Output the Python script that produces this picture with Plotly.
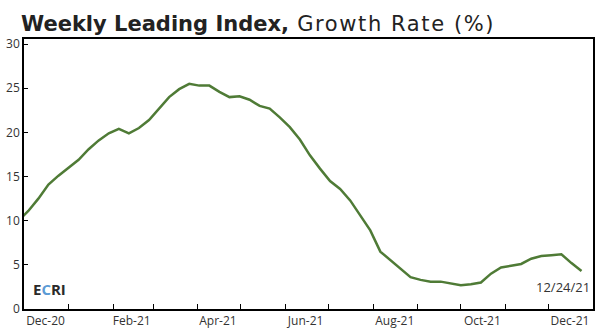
import pandas as pd
import plotly.graph_objects as go

# Weekly readings (Fridays), growth rate in percent
start_date = "2020-11-27"
growth_rate = [
    10.0, 11.1, 12.5, 14.1, 15.1, 16.0, 16.9, 18.1, 19.1, 19.9, 20.4,
    19.9, 20.5, 21.4, 22.7, 24.0, 24.9, 25.5, 25.3, 25.3, 24.6, 24.0,
    24.1, 23.7, 23.0, 22.7, 21.7, 20.6, 19.2, 17.4, 15.9, 14.5, 13.6,
    12.3, 10.6, 8.9, 6.5, 5.5, 4.5, 3.6, 3.3, 3.1, 3.1, 2.9, 2.7,
    2.8, 3.0, 4.0, 4.7, 4.9, 5.1, 5.7, 6.0, 6.1, 6.2, 5.2, 4.3,
]
dates = pd.date_range(start_date, periods=len(growth_rate), freq="7D")

# Axis labels sit mid-month, every second month
label_dates = ["2020-12-16", "2021-02-14", "2021-04-15", "2021-06-15",
               "2021-08-16", "2021-10-16", "2021-12-16"]
label_text = ["Dec-20", "Feb-21", "Apr-21", "Jun-21", "Aug-21", "Oct-21", "Dec-21"]
y_ticks = [0, 5, 10, 15, 20, 25, 30]

title_text = ("<b>Weekly Leading Index,</b>"
              "<span style='letter-spacing:1.6px'> Growth Rate (%)</span>")
last_date_label = "12/24/21"

FONT = "Open Sans"
fig = go.Figure()
fig.add_trace(go.Scatter(
    x=dates, y=growth_rate, mode="lines",
    line=dict(color="#4f7b36", width=2.5),
    hoverinfo="skip", showlegend=False,
))

fig.update_layout(
    width=600, height=335,
    margin=dict(l=24, r=5, t=39, b=26),
    paper_bgcolor="white", plot_bgcolor="white",
    font=dict(family=FONT, color="#333333"),
    title=dict(text=title_text, x=0.035, xanchor="left", y=0.93, yanchor="middle",
               font=dict(family="DejaVu Sans", size=21, color="#222222")),
)

fig.update_xaxes(
    range=["2020-12-01", "2022-01-01"],
    tickmode="array", tickvals=label_dates, ticktext=label_text,
    ticks="inside", ticklen=0,
    tickfont=dict(size=12, color="#333333"),
    showgrid=False, zeroline=False,
    showline=True, linecolor="black", linewidth=1.5, mirror=True,
    minor=dict(ticks="inside", ticklen=5, tickcolor="black", tickwidth=1.2,
               dtick="M1", tick0="2020-12-01", showgrid=False),
)
fig.update_yaxes(
    range=[0, 30.58],
    tickmode="array", tickvals=y_ticks,
    ticks="inside", ticklen=4, tickcolor="black", tickwidth=1.2,
    tickfont=dict(size=12, color="#333333"),
    showgrid=False, zeroline=False,
    showline=True, linecolor="black", linewidth=1.5, mirror=True,
)

# ECRI mark in the lower-left corner
fig.add_annotation(
    text="<b>E<span style='color:#5b9bd5'>C</span>RI</b>",
    xref="paper", yref="paper", x=0.012, y=0.03, xanchor="left", yanchor="bottom",
    showarrow=False, font=dict(family=FONT, size=15, color="#2a2a2a"),
)
# Date of the latest reading
fig.add_annotation(
    text=last_date_label,
    xref="paper", yref="paper", x=0.998, y=0.04, xanchor="right", yanchor="bottom",
    showarrow=False, font=dict(family=FONT, size=13, color="#333333"),
)

fig.write_html("out.html")
